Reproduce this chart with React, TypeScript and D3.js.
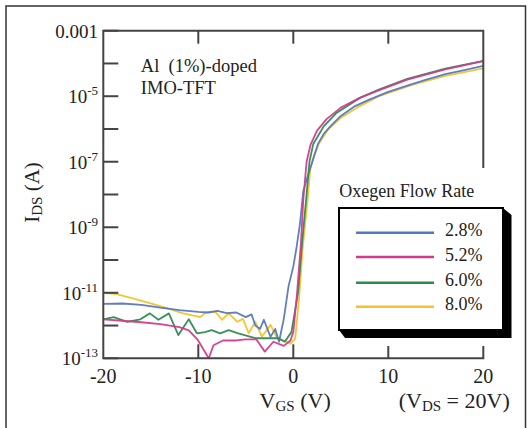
import React from 'react';
import * as d3 from 'd3';

// V_GS (V) and I_DS (A) for each oxygen flow rate
const vgs28 = [-20, -18, -16, -14, -12, -10, -9, -8, -7, -6, -5, -4.4, -4, -3.5, -3.1, -2.4, -1.9, -1.5, -1.0, -0.5, 0, 0.35, 0.7, 1.05, 1.5, 2.05, 2.6, 3.2, 3.9, 5, 6.5, 8, 10, 12, 14, 16, 18, 20];
const ids28 = [4.6e-12, 4.7e-12, 4.3e-12, 3.5e-12, 2.95e-12, 2.6e-12, 2.5e-12, 2.8e-12, 2.4e-12, 2.5e-12, 1.8e-12, 2.2e-12, 1.0e-12, 7.9e-13, 1.5e-12, 4.5e-13, 7.9e-13, 3.2e-13, 1.6e-12, 1.6e-11, 6.3e-11, 2.5e-10, 1.26e-9, 1.26e-8, 3.5e-8, 1.1e-7, 3.5e-7, 7.1e-7, 1.2e-6, 2.5e-6, 5.0e-6, 7.9e-6, 1.35e-5, 2.1e-5, 3.2e-5, 4.7e-5, 6.3e-5, 8.5e-5];

const vgs52 = [-20, -18, -16, -14, -12, -11, -10.1, -8.9, -8.4, -7.4, -6, -5, -3.9, -3.0, -2.1, -1.0, -0.3, 0, 0.4, 0.8, 1.05, 1.4, 1.8, 2.5, 3.5, 5, 7, 9, 12, 16, 20];
const ids52 = [1.55e-12, 1.4e-12, 1.26e-12, 1.1e-12, 8.9e-13, 7.1e-13, 3.8e-13, 1.0e-13, 2.5e-13, 3.5e-13, 3.5e-13, 3.8e-13, 3.8e-13, 1.6e-13, 3.2e-13, 2.4e-13, 3.5e-13, 6.3e-13, 1.0e-11, 3.2e-10, 6.8e-9, 1.0e-7, 3.2e-7, 8.9e-7, 2.0e-6, 4.5e-6, 8.9e-6, 1.5e-5, 3.2e-5, 6.6e-5, 1.17e-4];

const vgs60 = [-20, -18.9, -17.5, -16.1, -15.1, -14.2, -13.1, -12.1, -11.0, -10.15, -9.3, -8.6, -7.7, -6.8, -5.8, -4.0, -1.6, -0.9, -0.2, 0.5, 0.95, 1.4, 1.7, 2.1, 3.2, 4.5, 7, 9, 12, 16, 20];
const ids60 = [1.55e-12, 1.8e-12, 1.3e-12, 1.55e-12, 2.35e-12, 1.5e-12, 2.35e-12, 5.1e-13, 1.55e-12, 5.8e-13, 6.3e-13, 7.2e-13, 5.8e-13, 7.2e-13, 5.8e-13, 4.1e-13, 4.1e-13, 3.2e-13, 6.3e-13, 1.0e-11, 4.0e-10, 1.0e-8, 1.0e-7, 3.5e-7, 1.2e-6, 3.0e-6, 8.9e-6, 1.6e-5, 3.4e-5, 6.9e-5, 1.2e-4];

const vgs80 = [-20, -18.6, -16.9, -15.1, -13.3, -11.6, -9.8, -9.2, -8.2, -7.5, -6.8, -5.9, -5.3, -4.7, -4.0, -3.3, -2.4, -1.7, -1.0, -0.3, 0.2, 0.6, 1.0, 1.5, 1.8, 2.2, 2.7, 3.7, 5, 7, 9, 12.5, 16, 20];
const ids80 = [1.0e-11, 9.1e-12, 6.8e-12, 4.8e-12, 3.4e-12, 2.35e-12, 1.8e-12, 2.5e-12, 2.6e-12, 1.5e-12, 2.35e-12, 1.3e-12, 1.6e-12, 5.8e-13, 1.3e-12, 4.6e-13, 1.05e-12, 4.1e-13, 3.5e-13, 2.8e-13, 4.0e-13, 6.3e-12, 2.5e-10, 6.8e-9, 6.3e-8, 1.6e-7, 3.6e-7, 1.0e-6, 2.2e-6, 5.0e-6, 1.0e-5, 2.2e-5, 4.2e-5, 7.1e-5];

const seriesNames = ['2.8%', '5.2%', '6.0%', '8.0%'];
const seriesColors = ['#5678c0', '#d23b8d', '#2f8a50', '#f0c42a'];
const xTickValues = [-20, -10, 0, 10, 20];
const xInnerTicks = [-10, 0, 10];
const yDecadeTicks = [1e-3, 1e-4, 1e-5, 1e-6, 1e-7, 1e-8, 1e-9, 1e-10, 1e-11, 1e-12, 1e-13];
const yLabelValues = [1e-3, 1e-5, 1e-7, 1e-9, 1e-11, 1e-13];
const yLabelExponents = ['', '-5', '-7', '-9', '-11', '-13'];

const FONT = '"Liberation Serif", "Times New Roman", serif';

export default function App() {
  const left = 103.3, right = 483.3, top = 30.7, bottom = 358.3;
  const x = d3.scaleLinear().domain([-20, 20]).range([left, right]);
  const y = d3.scaleLog().domain([1e-13, 1e-3]).range([bottom, top]);

  const series = [
    { name: seriesNames[0], color: seriesColors[0], v: vgs28, i: ids28 },
    { name: seriesNames[1], color: seriesColors[1], v: vgs52, i: ids52 },
    { name: seriesNames[2], color: seriesColors[2], v: vgs60, i: ids60 },
    { name: seriesNames[3], color: seriesColors[3], v: vgs80, i: ids80 },
  ];
  const drawOrder = [3, 0, 2, 1];
  const line = d3.line<[number, number]>().x(d => x(d[0])).y(d => y(d[1]));

  const axisColor = '#444';
  const legendLineY = [232.7, 257, 282.7, 306.7];

  return (
    <svg width={532} height={428} style={{ position: 'absolute', left: 0, top: 0, background: '#fff' }} fontFamily={FONT}>
      <rect x={0} y={0} width={532} height={428} fill="#fff" />
      <rect x={6} y={6} width={519.5} height={440} fill="none" stroke="#333" strokeWidth={1.5} />
      <defs>
        <clipPath id="plotclip">
          <rect x={left} y={top - 6} width={right - left + 8} height={bottom - top + 6} />
        </clipPath>
      </defs>

      {/* curves */}
      <g clipPath="url(#plotclip)">
        {drawOrder.map(k => {
          const s = series[k];
          const pts = s.v.map((v, j) => [v, s.i[j]] as [number, number]);
          return <path key={s.name} d={line(pts) || ''} fill="none" stroke={s.color} strokeWidth={1.8} strokeLinejoin="round" opacity={0.95} />;
        })}
      </g>

      {/* plot frame */}
      <path d={`M${left},${top}H${right}V${bottom}H${left}Z`} fill="none" stroke={axisColor} strokeWidth={2} />
      {yDecadeTicks.map(t => (
        <line key={'yt' + t} x1={left} x2={left + 15} y1={y(t)} y2={y(t)} stroke={axisColor} strokeWidth={2} />
      ))}
      {xInnerTicks.map(t => (
        <g key={'xt' + t}>
          <line x1={x(t)} x2={x(t)} y1={top} y2={top + 13} stroke={axisColor} strokeWidth={2} />
          <line x1={x(t)} x2={x(t)} y1={bottom} y2={bottom - 14} stroke={axisColor} strokeWidth={2} />
        </g>
      ))}

      {/* y tick labels */}
      {yLabelValues.map((t, k) => (
        <text key={'yl' + t} x={98} y={y(t) + 7} textAnchor="end" fontSize={19} fill="#222">
          {yLabelExponents[k] === '' ? '0.001' : (
            <>
              {'10'}
              <tspan fontSize={13} dy={-8}>{yLabelExponents[k]}</tspan>
            </>
          )}
        </text>
      ))}

      {/* x tick labels */}
      {xTickValues.map(t => (
        <text key={'xl' + t} x={x(t)} y={382.7} textAnchor="middle" fontSize={20} fill="#222">{t}</text>
      ))}

      {/* axis titles */}
      <text x={259.6} y={408.3} fontSize={22} fill="#222">
        V<tspan fontSize={15} dy={3}>GS</tspan><tspan dy={-3}> (V)</tspan>
      </text>
      <text x={398.7} y={408.3} fontSize={22} fill="#222">
        (V<tspan fontSize={15} dy={3}>DS</tspan><tspan dy={-3}> = 20V)</tspan>
      </text>
      <text transform="translate(39,192.5) rotate(-90)" textAnchor="middle" fontSize={21} fill="#222">
        I<tspan fontSize={15} dy={3}>DS</tspan><tspan dy={-3}> (A)</tspan>
      </text>

      {/* annotation */}
      <text x={140.8} y={71.7} fontSize={18.5} fill="#222" style={{ whiteSpace: 'pre' }}>Al  (1%)-doped</text>
      <text x={140.8} y={94} fontSize={18.5} fill="#222">IMO-TFT</text>

      {/* legend */}
      <rect x={335} y={168} width={178} height={178} fill="#fff" />
      <text x={339.3} y={197.3} fontSize={18} fill="#222">Oxegen Flow Rate</text>
      <path d="M339,330 L503,330 L503,208 L511.5,215 L511.5,338 L345,338 Z" fill="#000" />
      <rect x={339} y={208} width={164} height={122} fill="#fff" stroke="#000" strokeWidth={2} />
      {series.map((s, k) => (
        <g key={'lg' + s.name}>
          <line x1={356} x2={434} y1={legendLineY[k]} y2={legendLineY[k]} stroke={s.color} strokeWidth={2.6} />
          <text x={445} y={legendLineY[k] + 3.5} fontSize={18} fill="#222">{s.name}</text>
        </g>
      ))}
    </svg>
  );
}
